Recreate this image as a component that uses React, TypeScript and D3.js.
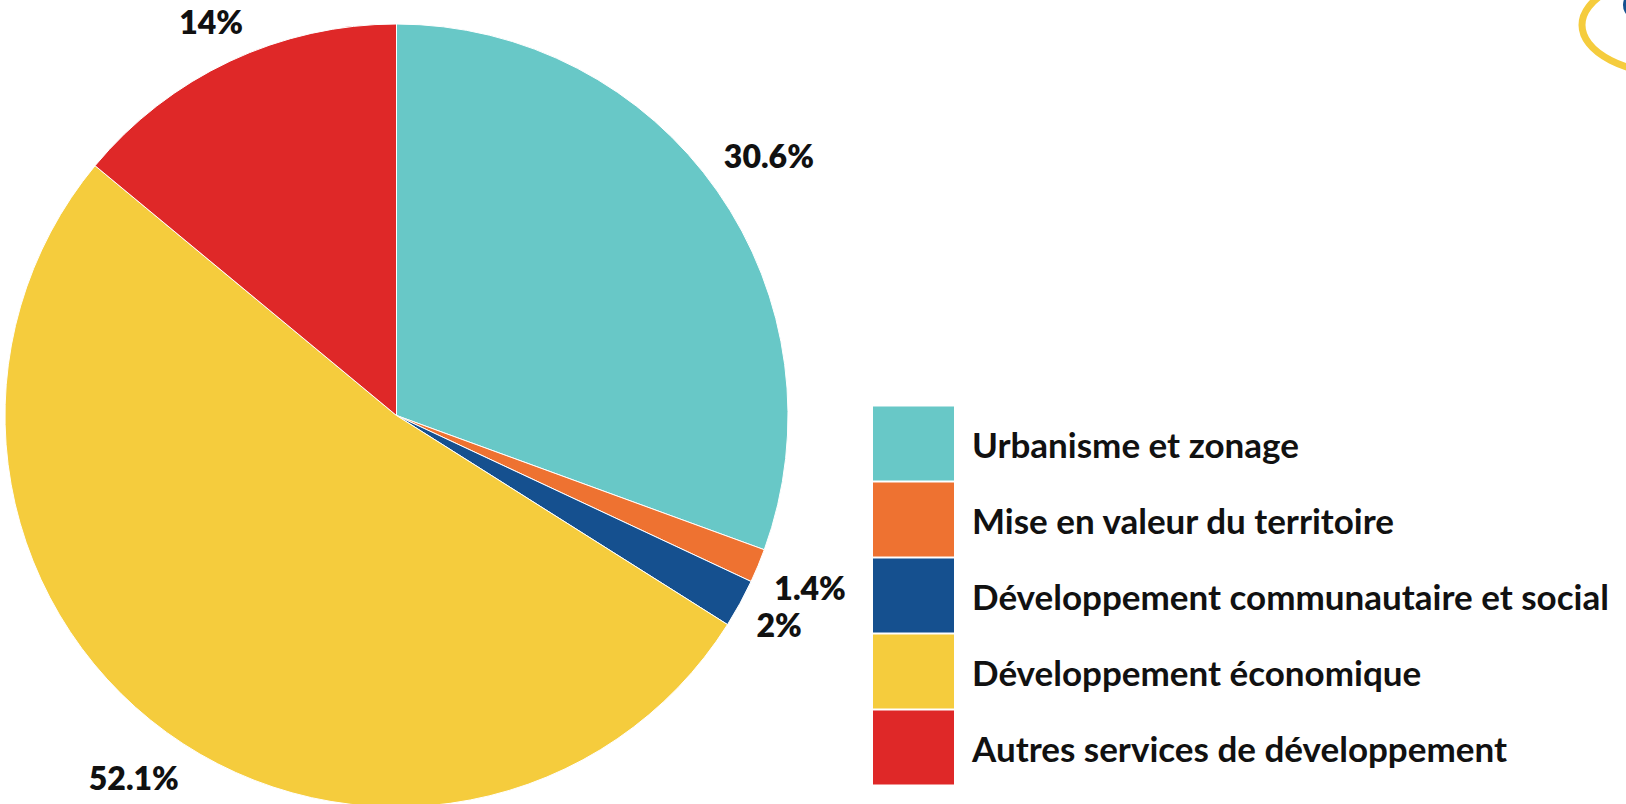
import * as d3 from "d3";
import {useEffect, useRef} from "react";

// データ
const categories = [
  "Urbanisme et zonage",
  "Mise en valeur du territoire",
  "Développement communautaire et social",
  "Développement économique",
  "Autres services de développement",
];
const values = [30.6, 1.4, 2, 52.1, 14];
const valueLabels = ["30.6%", "1.4%", "2%", "52.1%", "14%"];
const colors = ["#68C8C7", "#EE7231", "#15508F", "#F5CC3D", "#DF2828"];

const App = () => {
  const width = 1626;
  const height = 804;

  const cx = 396.5;
  const cy = 415.5;
  const radius = 391.5;

  const svgRef = useRef<SVGSVGElement>(null!);

  useEffect(() => {
    const svg = d3.select(svgRef.current);
    svg.selectAll("*").remove();

    // 右上のロゴの切れ端
    svg.append("ellipse")
      .attr("cx", 1680).attr("cy", 25)
      .attr("rx", 98).attr("ry", 50)
      .attr("fill", "none")
      .attr("stroke", "#F5CC3D")
      .attr("stroke-width", 7);
    svg.append("ellipse")
      .attr("cx", 1629).attr("cy", 5)
      .attr("rx", 6).attr("ry", 10)
      .attr("fill", "#15508F");

    const pie = d3.pie<number>().sort(null).value(d => d);
    const arcs = pie(values);

    const arc = d3.arc<d3.PieArcDatum<number>>()
      .innerRadius(0)
      .outerRadius(radius);

    const g = svg.append("g").attr("transform", `translate(${cx},${cy})`);

    g.selectAll("path.slice").data(arcs).enter()
      .append("path")
      .attr("class", "slice")
      .attr("d", arc)
      .attr("fill", (_, i) => colors[i])
      .attr("stroke", "#fff")
      .attr("stroke-width", 1);

    // ラベル: 円の外側に一定の隙間で置く
    const gap = 18;
    const labels = g.selectAll("text.pct").data(arcs).enter()
      .append("text")
      .attr("class", "pct")
      .attr("text-anchor", "middle")
      .attr("dominant-baseline", "central")
      .attr("font-family", "Lato, sans-serif")
      .attr("font-weight", 800)
      .attr("font-size", "32px")
      .attr("fill", "#111")
      .text((_, i) => valueLabels[i]);

    labels.each(function (d) {
      const el = this as SVGTextElement;
      const bb = el.getBBox();
      const a = (d.startAngle + d.endAngle) / 2;
      const s = Math.sin(a);
      const c = -Math.cos(a);
      const ext = Math.abs(s) * bb.width / 2 + Math.abs(c) * bb.height * 0.36;
      const dist = radius + gap + ext;
      d3.select(el).attr("x", dist * s).attr("y", dist * c);
    });

    // 凡例
    const legendX = 873;
    const legendY = 406.5;
    const pitch = 76;
    const sw = 81;
    const sh = 74;
    const lg = svg.append("g");
    categories.forEach((name, i) => {
      lg.append("rect")
        .attr("x", legendX)
        .attr("y", legendY + i * pitch)
        .attr("width", sw)
        .attr("height", sh)
        .attr("fill", colors[i]);
      lg.append("text")
        .attr("x", 972)
        .attr("y", legendY + i * pitch + sh / 2)
        .attr("dominant-baseline", "central")
        .attr("font-family", "Lato, sans-serif")
        .attr("font-weight", 700)
        .attr("font-size", "35px")
        .attr("fill", "#111")
        .text(name);
    });
  }, []);

  return (
    <svg
      ref={svgRef}
      width={width}
      height={height}
      style={{position: "absolute", left: 0, top: 0, background: "#fff"}}
    />
  );
};

export default App;
